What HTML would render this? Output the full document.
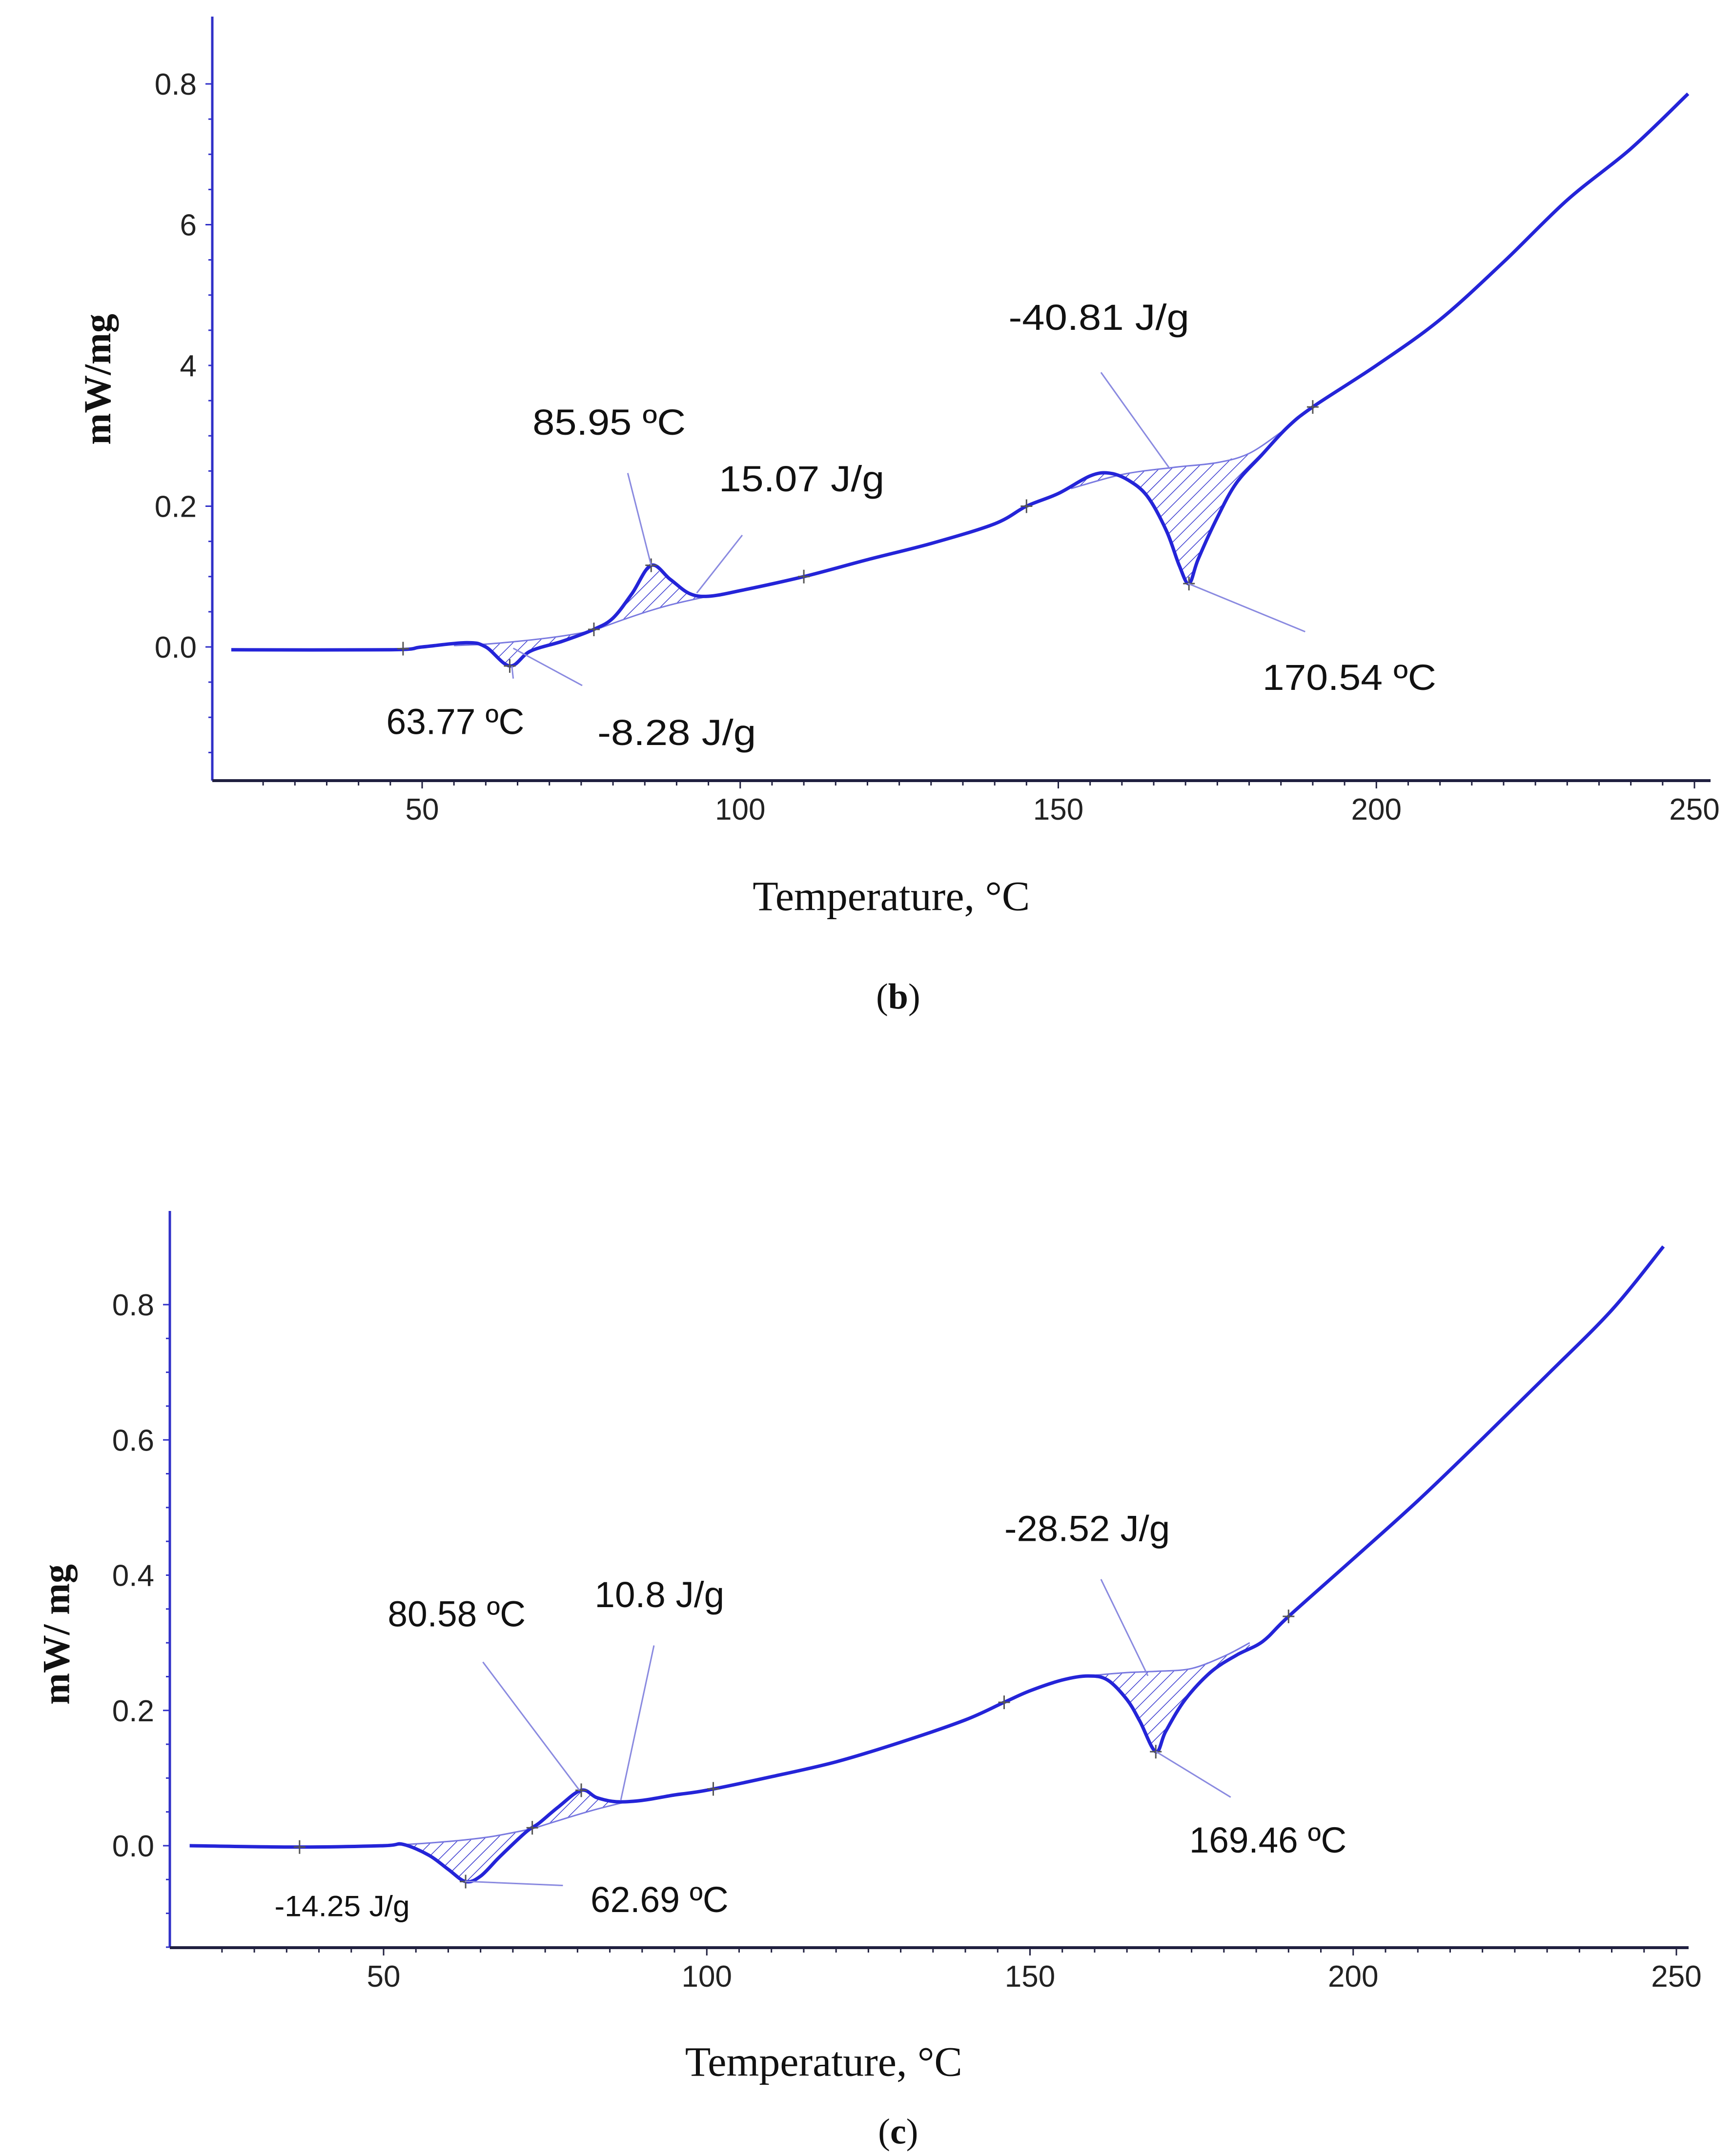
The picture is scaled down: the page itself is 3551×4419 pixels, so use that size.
<!DOCTYPE html>
<html><head><meta charset="utf-8">
<style>
html,body{margin:0;padding:0;background:#fff;}
svg{display:block;}
</style></head>
<body>
<svg id="fig" width="3551" height="4419" viewBox="0 0 3551 4419" xmlns="http://www.w3.org/2000/svg">
<defs>
<pattern id="hatch" patternUnits="userSpaceOnUse" width="18" height="18" patternTransform="rotate(45)">
<line x1="0" y1="0" x2="0" y2="18" stroke="#3b3bd0" stroke-width="3"/>
</pattern>
</defs>
</svg>
<script>
// ---------- Panel b data ----------
const bXTicks = [50, 100, 150, 200, 250];
const bYTicks = [0, 0.2, 0.4, 0.6, 0.8];
const bYTickLabels = ["0.0", "0.2", "4", "6", "0.8"];
const bTemp = [20,45,50,57,60,63.77,67,72,77,80,83,86,89,92,95,100,110,120,130,140,145,150,155,158,161,164,167,169,170.54,172,175,178,182,186,190,200,210,220,230,240,249];
const bSignal = [-0.004,-0.004,0,0.006,0,-0.027,-0.006,0.008,0.025,0.041,0.076,0.116,0.096,0.076,0.072,0.080,0.100,0.124,0.147,0.175,0.200,0.218,0.243,0.247,0.237,0.214,0.165,0.116,0.090,0.125,0.184,0.233,0.273,0.312,0.341,0.400,0.465,0.547,0.635,0.708,0.786];
const bBase1T = [55,60,65,70,75,78]; const bBase1V = [0.002,0.004,0.008,0.013,0.020,0.027];
const bBase2T = [78,82,86,90,95]; const bBase2V = [0.027,0.040,0.052,0.062,0.072];
const bBase3T = [152,160,168,175,180,185]; const bBase3V = [0.225,0.245,0.255,0.262,0.275,0.305];
const bMarkT = [47,63.77,77,86,110,145,170.54,190];

// ---------- Panel c data ----------
const cXTicks = [50, 100, 150, 200, 250];
const cYTicks = [0, 0.2, 0.4, 0.6, 0.8];
const cYTickLabels = ["0.0", "0.2", "0.4", "0.6", "0.8"];
const cTemp = [20,37,50,53,57,60,62.69,65,68,72,74,77,80.58,83,86,90,95,100,110,120,130,140,146,150,155,159,162,165,167,169.46,171,174,178,182,186,190,200,210,220,230,240,248];
const cSignal = [0,-0.002,0,0.002,-0.014,-0.035,-0.053,-0.045,-0.016,0.020,0.033,0.057,0.082,0.071,0.065,0.067,0.075,0.082,0.102,0.124,0.153,0.186,0.212,0.229,0.245,0.251,0.245,0.216,0.184,0.139,0.169,0.216,0.257,0.282,0.302,0.339,0.424,0.510,0.602,0.696,0.792,0.886];
const cBase1T = [52,57,62,67,73]; const cBase1V = [0.001,0.004,0.008,0.014,0.025];
const cBase2T = [73,78,83,88]; const cBase2V = [0.025,0.040,0.054,0.066];
const cBase3T = [160,165,170,175,180,184]; const cBase3V = [0.252,0.256,0.258,0.262,0.280,0.300];
const cMarkT = [37,62.69,73,80.58,101,146,169.46,190];

const NS = "http://www.w3.org/2000/svg";
const svg = document.getElementById('fig');
const K = 2.827;
function mk(tag, attrs, parent){const e=document.createElementNS(NS,tag);for(const k in attrs)e.setAttribute(k,attrs[k]);(parent||svg).appendChild(e);return e;}
function interp(T,V,t){for(let i=0;i<T.length-1;i++){if(t>=T[i]&&t<=T[i+1]){const f=(t-T[i])/(T[i+1]-T[i]);return V[i]+f*(V[i+1]-V[i]);}}return t<T[0]?V[0]:V[V.length-1];}
function smoothPath(pts){
  let d="M"+pts[0][0].toFixed(1)+","+pts[0][1].toFixed(1);
  for(let i=0;i<pts.length-1;i++){
    const p0=pts[Math.max(0,i-1)],p1=pts[i],p2=pts[i+1],p3=pts[Math.min(pts.length-1,i+2)];
    const c1=[p1[0]+(p2[0]-p0[0])/6,p1[1]+(p2[1]-p0[1])/6];
    const c2=[p2[0]-(p3[0]-p1[0])/6,p2[1]-(p3[1]-p1[1])/6];
    d+=" C"+c1[0].toFixed(1)+","+c1[1].toFixed(1)+" "+c2[0].toFixed(1)+","+c2[1].toFixed(1)+" "+p2[0].toFixed(1)+","+p2[1].toFixed(1);
  }
  return d;
}

function panel(cfg){
  const g = mk('g',{});
  
  
  const x = t => cfg.x0 + (t-50)*(cfg.x250-cfg.x0)/200;
  const y = v => cfg.y0 + v*(cfg.y08-cfg.y0)/0.8;
  // hatched areas
  cfg.bases.forEach((b,bi)=>{
    const T=b[0],V=b[1];
    const pts=[];
    for(let t=T[0];t<=T[T.length-1]+0.001;t+=0.5) pts.push([x(t),y(interp(cfg.T,cfg.V,t))]);
    for(let t=T[T.length-1];t>=T[0]-0.001;t-=0.5) pts.push([x(t),y(interp(T,V,t))]);
    const poly=mk('polygon',{points:pts.map(p=>p[0].toFixed(1)+","+p[1].toFixed(1)).join(" "),fill:"url(#hatch)",stroke:"none"},g);
    
    
    const bl=mk('path',{d:smoothPath(T.map((t,i)=>[x(t),y(V[i])])),fill:"none",stroke:"#7a7ae0","stroke-width":3},g);
    
    
  });
  // curve
  const curve=mk('path',{d:smoothPath(cfg.T.map((t,i)=>[x(t),y(cfg.V[i])])),fill:"none",stroke:"#2424d8","stroke-width":7,"stroke-linejoin":"round"},g);
  
  
  // markers
  cfg.marks.forEach(t=>{
    const px=x(t),py=y(interp(cfg.T,cfg.V,t));
    const m=mk('path',{d:`M${px-12},${py}H${px+12}M${px},${py-14}V${py+14}`,stroke:"#555","stroke-width":3},g);
    
    
  });
  // axes
  const ya=mk('line',{x1:cfg.ax,y1:cfg.top,x2:cfg.ax,y2:cfg.bottom,stroke:"#3030c8","stroke-width":5},g);
  
  
  const xa=mk('line',{x1:cfg.ax,y1:cfg.bottom,x2:cfg.right,y2:cfg.bottom,stroke:"#202040","stroke-width":6},g);
  
  
  for(let t=25;t<=250;t+=5){
    const big = t%50===0;
    mk('line',{x1:x(t),y1:cfg.bottom,x2:x(t),y2:cfg.bottom+(big?16:10),stroke:"#202040","stroke-width":3},g);
  }
  for(let v=-0.15;v<=0.85;v+=0.05){
    mk('line',{x1:cfg.ax-(Math.abs(v*10%2)<0.01?14:8),y1:y(v),x2:cfg.ax,y2:y(v),stroke:"#3030c8","stroke-width":3},g);
  }
  cfg.xt.forEach(t=>{
    const tx=mk('text',{x:x(t),y:cfg.bottom+80,"text-anchor":"middle","font-family":"Liberation Sans Narrow, Liberation Sans, sans-serif","font-size":62,fill:"#222"},g);
    tx.textContent=t;
    
    
  });
  cfg.yt.forEach((v,i)=>{
    const tx=mk('text',{x:cfg.ax-32,y:y(v)+22,"text-anchor":"end","font-family":"Liberation Sans Narrow, Liberation Sans, sans-serif","font-size":62,fill:"#222"},g);
    tx.textContent=cfg.ytl[i];
    
    
  });
  // leader lines
  cfg.leaders.forEach(l=>{
    const ln=mk('line',{x1:l[0]*K,y1:l[1]*K,x2:l[2]*K,y2:l[3]*K,stroke:"#8a8ae0","stroke-width":3},g);
    
    
  });
  cfg.labels.forEach(l=>{
    const tx=mk('text',{x:l[1]*K,y:l[3]*K+26,"font-family":"Liberation Sans, sans-serif","font-size":l[4]||74,fill:"#111",textLength:(l[2]-l[1])*K,lengthAdjust:"spacingAndGlyphs"},g);
    tx.textContent=l[0];
    
    
  });
  const yt=mk('text',{x:0,y:0,transform:`translate(${cfg.ytx*K},${cfg.yty*K}) rotate(-90)`,"text-anchor":"middle","font-family":"Liberation Serif, serif","font-size":78,"font-weight":"bold",fill:"#111"},g);
  yt.textContent=cfg.ytitle;
  
  
  const xt=mk('text',{x:cfg.xtx*K,y:cfg.xty*K+28,"text-anchor":"middle","font-family":"Liberation Serif, serif","font-size":86,fill:"#111"},g);
  xt.textContent="Temperature, °C";
  
  
  const cap=mk('text',{x:651*K,y:cfg.capy*K+26,"text-anchor":"middle","font-family":"Liberation Serif, serif","font-size":74,fill:"#111"},g);
  cap.innerHTML='(<tspan font-weight="bold">'+cfg.cap+'</tspan>)';
  
  
}

panel({name:"panel-b",x0:865,x250:3472,y0:1326,y08:172,ax:435,top:34,bottom:1600,right:3505,
  T:bTemp,V:bSignal,bases:[[bBase1T,bBase1V],[bBase2T,bBase2V],[bBase3T,bBase3V]],marks:bMarkT,
  xt:bXTicks,yt:bYTicks,ytl:bYTickLabels,
  leaders:[[455,343,472,410],[538,388,505,430],[798,270,848,340],[371,483,372,492],[372,470,422,497],[861,423,946,458]],
  labels:[["85.95 ºC",386,497,306],["15.07 J/g",521,641,347],["-40.81 J/g",731,862,230],["63.77 ºC",280,380,523],["-8.28 J/g",433,548,531],["170.54 ºC",915,1041,491]],
  ytitle:"mW/mg",ytx:80,yty:275,xtx:646,xty:650,capy:722,cap:"b"});

panel({name:"panel-c",x0:786,x250:3435,y0:3783,y08:2674,ax:348,top:2482,bottom:3992,right:3460,
  T:cTemp,V:cSignal,bases:[[cBase1T,cBase1V],[cBase2T,cBase2V],[cBase3T,cBase3V]],marks:cMarkT,
  xt:cXTicks,yt:cYTicks,ytl:cYTickLabels,
  leaders:[[350,1205,420,1298],[474,1193,450,1305],[798,1145,832,1215],[838,1270,892,1303],[337,1364,408,1367]],
  labels:[["-14.25 J/g",199,297,1380,60],["62.69 ºC",428,528,1377],["80.58 ºC",281,381,1170],["10.8 J/g",431,525,1156],["-28.52 J/g",728,848,1108],["169.46 ºC",862,976,1334]],
  ytitle:"mW/ mg",ytx:50,yty:1185,xtx:597,xty:1495,capy:1545,cap:"c"});
</script>
</body></html>
